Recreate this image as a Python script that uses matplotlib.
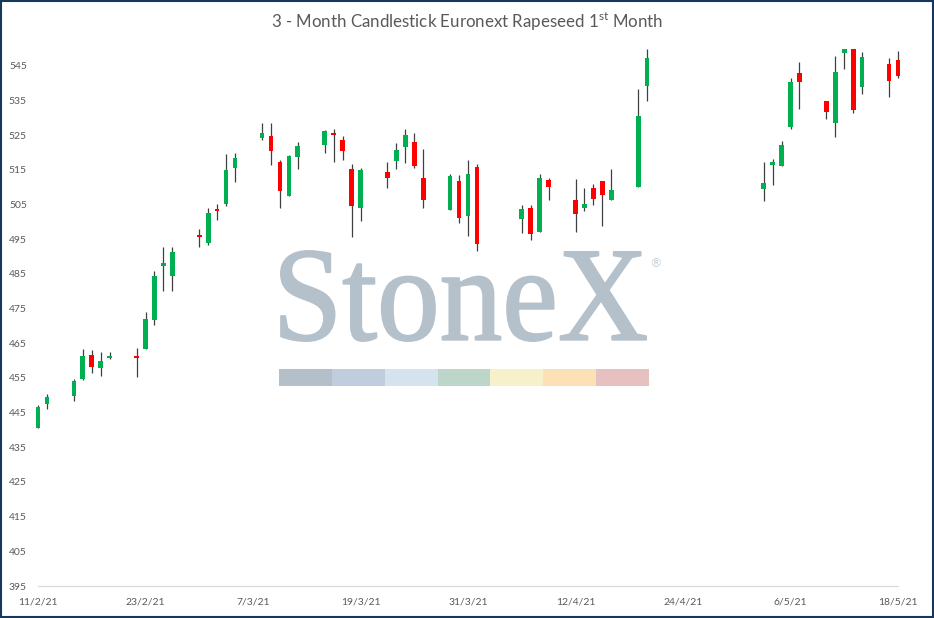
import matplotlib
matplotlib.use("Agg")
import matplotlib.pyplot as plt
import matplotlib.dates as mdates
from matplotlib.patches import Rectangle, PathPatch
from matplotlib.textpath import TextPath
from matplotlib.font_manager import FontProperties
from matplotlib.transforms import Affine2D
import pandas as pd

plt.rcParams['font.family'] = ['Lato', 'DejaVu Sans']
plt.rcParams['mathtext.fontset'] = 'custom'
plt.rcParams['mathtext.rm'] = 'Lato'

# ---------------- data ----------------
dates = ["2021-02-11", "2021-02-12", "2021-02-15", "2021-02-16", "2021-02-17", "2021-02-18", "2021-02-19",
         "2021-02-22", "2021-02-23", "2021-02-24", "2021-02-25", "2021-02-26",
         "2021-03-01", "2021-03-02", "2021-03-03", "2021-03-04", "2021-03-05",
         "2021-03-08", "2021-03-09", "2021-03-10", "2021-03-11", "2021-03-12",
         "2021-03-15", "2021-03-16", "2021-03-17", "2021-03-18", "2021-03-19",
         "2021-03-22", "2021-03-23", "2021-03-24", "2021-03-25", "2021-03-26",
         "2021-03-29", "2021-03-30", "2021-03-31", "2021-04-01",
         "2021-04-06", "2021-04-07", "2021-04-08", "2021-04-09",
         "2021-04-12", "2021-04-13", "2021-04-14", "2021-04-15", "2021-04-16",
         "2021-04-19", "2021-04-20",
         "2021-05-03", "2021-05-04", "2021-05-05", "2021-05-06", "2021-05-07",
         "2021-05-10", "2021-05-11", "2021-05-12", "2021-05-13", "2021-05-14",
         "2021-05-17", "2021-05-18"]
opens = [440.7, 447.6, 449.9, 454.7, 461.6, 458.0, 460.8,
         461.3, 463.5, 471.7, 487.3, 484.4,
         496.3, 493.8, 503.8, 505.2, 515.7,
         524.3, 524.8, 517.3, 507.6, 518.8,
         522.3, 525.8, 523.7, 515.3, 504.1,
         514.4, 517.7, 521.7, 523.1, 512.7,
         503.5, 511.8, 501.7, 515.9,
         500.9, 504.0, 497.1, 512.1,
         506.3, 504.1, 509.8, 511.8, 506.2,
         510.2, 539.3,
         509.6, 516.3, 516.0, 527.4, 543.0,
         534.9, 528.4, 548.6, 551.0, 538.8,
         545.6, 546.7]
highs = [447.2, 450.3, 454.6, 463.4, 463.1, 462.5, 462.5,
         463.6, 473.9, 485.8, 492.9, 492.9,
         497.9, 503.9, 505.2, 519.6, 519.9,
         528.6, 528.6, 517.9, 519.3, 523.1,
         526.5, 526.8, 524.8, 516.7, 515.6,
         517.3, 522.7, 526.7, 525.6, 521.0,
         513.8, 513.6, 517.9, 516.7,
         504.8, 504.8, 513.8, 512.7,
         512.4, 509.8, 511.0, 511.8, 515.3,
         538.4, 549.9,
         517.2, 518.2, 523.4, 541.6, 546.2,
         534.9, 547.9, 552.0, 553.0, 549.0,
         547.2, 549.3]
lows = [440.7, 446.0, 448.5, 454.4, 456.3, 455.7, 460.4,
        455.4, 463.5, 470.4, 480.2, 480.2,
        492.9, 493.4, 500.6, 504.7, 511.5,
        523.5, 516.3, 504.1, 507.6, 515.4,
        520.0, 517.4, 517.9, 495.8, 500.4,
        509.8, 515.4, 517.1, 515.5, 503.9,
        503.5, 499.8, 496.0, 491.7,
        496.9, 494.8, 497.1, 506.3,
        497.1, 503.3, 505.0, 498.7, 506.2,
        510.2, 535.0,
        505.9, 510.8, 516.0, 526.8, 532.6,
        529.7, 524.6, 544.2, 531.5, 536.9,
        535.9, 541.6]
closes = [446.6, 449.5, 454.1, 461.3, 458.2, 459.9, 461.3,
          460.8, 471.9, 484.4, 488.2, 491.3,
          495.7, 502.6, 503.2, 515.0, 518.5,
          525.7, 520.6, 509.0, 519.0, 521.9,
          526.3, 525.2, 520.5, 504.6, 515.0,
          512.8, 520.8, 525.1, 516.0, 506.2,
          513.3, 501.0, 513.8, 493.7,
          503.8, 496.5, 512.7, 510.1,
          502.3, 505.2, 506.7, 507.8, 509.2,
          530.6, 547.3,
          511.3, 517.3, 522.2, 540.4, 540.4,
          531.8, 543.3, 550.5, 532.3, 547.6,
          540.7, 542.1]

x_start = "2021-02-11"
x_end = "2021-05-18"
x_step_days = 12
y_ticks = list(range(395, 546, 10))
y_min, y_max = 395, 550
title_text = r"3 - Month Candlestick Euronext Rapeseed 1$^{\mathrm{st}}$ Month"

# ---------------- figure ----------------
W, H = 934, 618
fig = plt.figure(figsize=(W / 100, H / 100), dpi=100)
fig.patch.set_facecolor("white")
ax = fig.add_axes([38 / W, 1 - 586 / H, (898 - 38) / W, (586 - 48.6) / H])
ax.set_facecolor("none")

xd = mdates.date2num(pd.to_datetime(dates))
x0 = mdates.date2num(pd.Timestamp(x_start))
x1 = mdates.date2num(pd.Timestamp(x_end))

clip_rect = Rectangle((-0.03, 0), 1.06, 1, transform=ax.transAxes, facecolor="none")

wicks = ax.vlines(xd, lows, highs, color="#404040", linewidth=0.9, zorder=3)
wicks.set_clip_path(clip_rect)

green, red = "#00B050", "#FF0000"
for xi, o, c in zip(xd, opens, closes):
    col = green if c >= o else red
    b = ax.bar(xi, abs(c - o), bottom=min(o, c), width=0.52, color=col, zorder=4,
               linewidth=0)
    for p in b:
        p.set_clip_path(clip_rect)

ax.set_xlim(x0, x1)
ax.set_ylim(y_min, y_max)
xt = [x0 + k * x_step_days for k in range(int((x1 - x0) // x_step_days) + 1)]
ax.set_xticks(xt)
ax.set_xticklabels([f"{d.day}/{d.month}/{d.strftime('%y')}" for d in mdates.num2date(xt)])
ax.set_yticks(y_ticks)
ax.set_yticklabels([str(v) for v in y_ticks])
ax.tick_params(axis="both", length=0, labelsize=7.5, labelcolor="#595959")
ax.tick_params(axis="y", pad=8)
ax.tick_params(axis="x", pad=8)
for s in ["top", "right", "left"]:
    ax.spines[s].set_visible(False)
ax.spines["bottom"].set_color("#D9D9D9")
ax.spines["bottom"].set_linewidth(0.9)

# ---------------- watermark ----------------
wm_col = "#B4C0CA"
tp = TextPath((0, 0), "StoneX", size=100, prop=FontProperties(family="Liberation Serif"))
ext = tp.get_extents()
tx0, tx1, ty_top, ty_bot = 281, 646, 251, 341
sx = (tx1 - tx0) / ext.width
sy = (ty_bot - ty_top) / ext.height
tr = (Affine2D().translate(-ext.x0, -ext.y0).scale(sx, sy)
      .translate(tx0, H - ty_bot).scale(1 / W, 1 / H) + fig.transFigure)
ax.add_patch(PathPatch(tp, transform=tr, facecolor=wm_col, edgecolor=wm_col,
                       linewidth=1.4, joinstyle="round", zorder=0.5, clip_on=False))
fig.text(655.5 / W, 1 - 264 / H, "®", fontsize=9, color="#C8D1D9",
         ha="center", va="center", family="DejaVu Sans")

strip_cols = ["#B3BFC9", "#BFCDDD", "#D5E3EF", "#BED5CA", "#F6F1CB", "#FBE1B5", "#E7C0C0"]
sx0, sx1, sy0, sy1 = 279, 649, 369, 386
seg = (sx1 - sx0) / len(strip_cols)
for i, c in enumerate(strip_cols):
    ax.add_patch(Rectangle(((sx0 + i * seg) / W, 1 - sy1 / H), seg / W, (sy1 - sy0) / H,
                           transform=fig.transFigure, facecolor=c, edgecolor="none",
                           zorder=0.5, clip_on=False))

# ---------------- title & border ----------------
fig.text(467 / W, 1 - 22 / H, title_text, ha="center", va="center",
         fontsize=12.2, color="#595959")
fig.patches.append(Rectangle((0.0008, 0.0012), 0.9984, 0.9976, transform=fig.transFigure,
                             facecolor="none", edgecolor="#17375E", linewidth=1.5))

fig.savefig("out.png", dpi=100)
